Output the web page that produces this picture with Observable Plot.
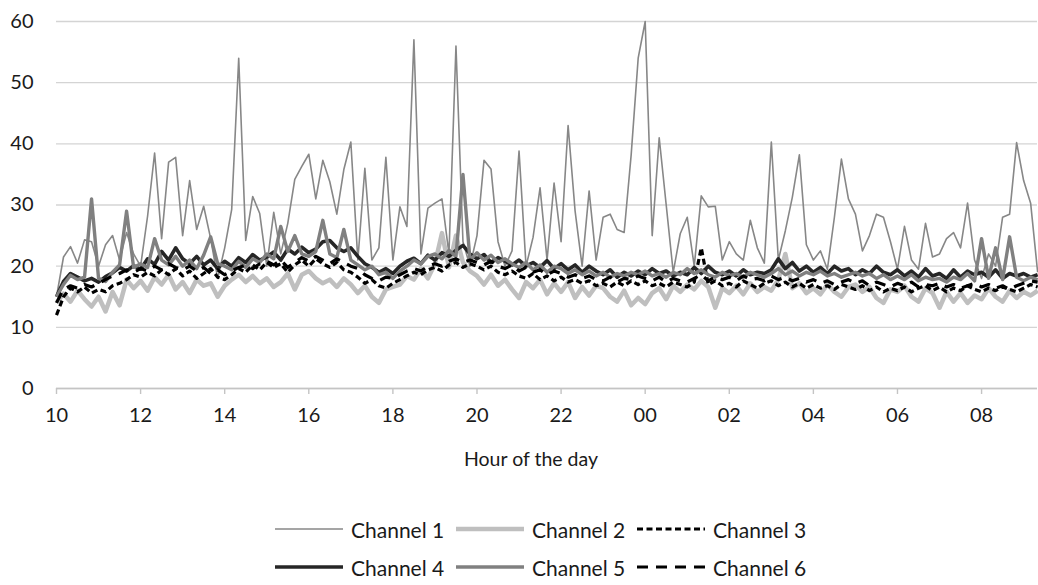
<!DOCTYPE html>
<html>
<head>
<meta charset="utf-8">
<script src="https://cdn.jsdelivr.net/npm/d3@7"></script>
<script src="https://cdn.jsdelivr.net/npm/@observablehq/plot@0.6"></script>
<style>
  html, body { margin: 0; padding: 0; background: #fff; }
  #wrap { width: 1038px; height: 585px; position: relative; font-family: Lato, "Open Sans", sans-serif; }
  #legend { position: absolute; left: 0; top: 0; width: 1038px; }
  .row { position: absolute; left: 275px; display: flex; justify-content: flex-start; align-items: center; height: 26px; }
  .item { display: flex; align-items: center; }
  .item svg { display: block; margin-right: 8px; }
  .item span { font-size: 21px; color: #1a1a1a; margin-right: 10px; white-space: nowrap; display: inline-block; width: 95px; }
</style>
</head>
<body>
<div id="wrap"><div id="chart"></div><div id="legend"></div></div>
<script>
// ---- data (10-minute samples starting 10:00) ----
const startHour = 10;
const stepMinutes = 10;
const xTickHours = [0, 2, 4, 6, 8, 10, 12, 14, 16, 18, 20, 22];
const yTicks = [0, 10, 20, 30, 40, 50, 60];
const xTitle = "Hour of the day";
const channelNames = ["Channel 1", "Channel 2", "Channel 3", "Channel 4", "Channel 5", "Channel 6"];

const channel1 = [
  15, 21.5, 23.2, 20.5, 24.3, 24,
  20, 23.5, 25, 21, 25.5, 22,
  20, 28.2, 38.5, 24.5, 37, 37.8,
  25, 34, 26, 29.8, 24.5, 18,
  23, 29.3, 54, 24.2, 31.4, 28.6,
  20, 28.8, 22, 27, 34.2, 36.3,
  38.3, 31, 37.3, 33.8, 28.5, 35.8,
  40.3, 21, 36, 21, 23, 37.8,
  21, 29.7, 26.5, 57, 22, 29.5,
  30.3, 31, 22, 56, 24, 20,
  25, 37.3, 35.9, 24, 20, 22.5,
  38.8, 20, 24.7, 32.8, 21, 33.6,
  24, 43, 29, 20, 32.3, 21,
  28, 28.5, 26, 25.5, 38.2, 54,
  60, 25, 41, 30, 19, 25.3,
  28, 20, 31.5, 29.7, 29.8, 21,
  24, 22, 21, 27.5, 23, 20.5,
  40.3, 21, 25.8, 31.3, 38.2, 23.5,
  21, 22.5, 19.5, 28, 37.5, 31,
  28.5, 22.5, 25, 28.5, 28, 24,
  19.5, 26.5, 21, 19.5, 27, 21.5,
  22, 24.5, 25.5, 23, 30.3, 21,
  18, 22, 20, 28, 28.5, 40.2,
  34, 30.3, 19
];
const channel2 = [
  14.0, 15.5, 14.2, 16.0, 14.6, 13.4,
  15.0, 12.6, 15.8, 13.6, 17.8, 16.4,
  17.6, 16.0, 18.2, 17.0, 18.6, 16.2,
  17.4, 15.6, 17.8, 16.8, 17.2, 15.0,
  16.8, 17.8, 18.6, 17.4, 18.4, 17.2,
  18.0, 16.6, 17.4, 18.8, 16.2, 18.6,
  19.2, 18.0, 17.2, 17.8, 16.6, 18.0,
  17.0, 15.6, 16.8, 15.0, 14.0, 16.2,
  16.6, 17.0, 18.4, 17.8, 19.6, 18.0,
  20.4, 25.4, 19.8, 25.0, 20.6, 19.2,
  18.4, 17.0, 18.6, 16.8, 17.8, 16.2,
  14.8, 17.4, 16.4, 17.8, 15.4, 17.2,
  15.8, 17.4, 14.8, 16.6, 15.2, 16.8,
  16.4, 15.0, 14.2, 16.0, 13.6, 14.8,
  13.8, 15.6, 16.4, 14.6, 16.8, 15.8,
  17.0, 16.2, 17.6, 16.6, 13.2, 16.4,
  15.6, 16.8, 15.4, 17.2, 15.8, 16.6,
  16.0, 17.8, 22.0, 16.4, 17.2, 15.6,
  16.4, 15.4, 17.0, 15.8, 15.0, 16.6,
  17.0, 15.8, 16.6, 14.8, 14.0, 16.2,
  15.8, 16.8, 15.0, 14.2, 16.4, 15.6,
  13.2, 15.8, 14.2, 15.6, 14.0, 15.2,
  14.6, 16.4, 15.0, 14.2, 16.0, 14.8,
  15.8, 15.2, 16.0
];
const channel3 = [
  12.0, 15.0, 16.4, 15.8, 16.6, 15.6,
  16.2, 15.8, 16.8, 17.2, 17.8, 18.6,
  18.2, 19.0, 18.4, 19.4, 18.6, 19.6,
  18.4, 19.2, 18.0, 18.8, 19.6, 18.2,
  17.8, 18.6, 19.6, 19.0, 20.2, 19.4,
  20.6, 19.8, 20.4, 19.0, 20.2, 21.0,
  20.0, 21.2, 20.4, 19.8, 20.6, 19.4,
  19.0, 18.2, 17.2, 17.8, 16.8, 16.4,
  17.2, 17.8, 18.4, 19.0, 18.6, 19.4,
  19.8, 19.2, 20.2, 20.6, 19.8, 20.4,
  20.0, 19.4, 20.0, 19.0, 18.6, 19.2,
  18.4, 18.0, 18.8, 17.8, 18.4, 17.6,
  18.2, 17.4, 17.8, 17.2, 17.6, 16.8,
  17.2, 16.6, 17.4, 16.8, 17.6, 17.0,
  17.6, 16.8, 17.2, 16.6, 17.4, 17.0,
  16.6, 17.4, 23.0, 17.0, 17.6, 16.8,
  17.2, 16.6, 17.6, 17.0, 16.4, 17.2,
  17.6, 16.8, 17.4, 16.6, 17.2, 16.4,
  17.0, 16.4, 16.8, 16.2, 17.0, 16.6,
  16.2, 16.8, 16.0, 16.6, 15.8, 16.4,
  16.0, 16.6, 15.8, 16.4, 16.8, 16.0,
  16.6, 15.8, 16.4, 16.0, 16.8, 16.2,
  15.8, 16.4, 16.0, 16.6, 16.2, 15.8,
  16.4, 17.0, 16.6
];
const channel4 = [
  15.0, 17.5, 18.8, 18.2, 17.6, 18.0,
  17.4, 18.3, 18.9, 19.8, 19.2, 20.1,
  19.5, 21.2, 20.3, 22.4, 21.0, 23.0,
  21.2, 20.4, 21.6, 20.2, 21.0, 19.6,
  20.8, 20.0, 21.4, 20.6, 21.9, 21.0,
  21.5, 22.3, 21.0, 22.8, 22.0, 23.1,
  22.2, 22.8, 24.0, 24.2, 23.0, 22.4,
  23.0, 21.6, 20.4, 19.8, 19.0, 19.6,
  18.8, 20.0, 20.8, 21.3, 20.4, 21.8,
  21.0, 22.2, 21.6, 22.6, 23.4, 22.0,
  21.2, 21.9, 20.6, 21.4, 20.8, 20.2,
  21.0, 20.0, 20.6, 19.8, 20.9, 19.6,
  20.4, 19.4, 20.2, 19.0, 20.0, 19.2,
  18.6, 19.4, 18.2, 19.0, 18.4, 19.2,
  18.6, 19.6, 18.8, 19.2, 18.4, 19.0,
  18.6, 19.8, 18.8, 20.0, 19.0, 18.6,
  19.2, 18.4, 19.4, 18.6, 19.0, 18.8,
  19.4, 21.2, 19.6, 20.6, 19.2, 20.0,
  19.0, 19.8, 18.8, 20.0, 19.2, 19.6,
  18.6, 19.4, 18.8, 20.0, 19.0, 18.6,
  19.4, 18.4, 19.2, 18.2, 19.6, 18.4,
  18.8, 18.0, 19.4, 18.2, 19.2, 18.6,
  19.0, 18.2, 19.4, 18.0, 18.8, 18.4,
  18.8, 18.2, 18.6
];
const channel5 = [
  15.0, 17.0, 18.5, 17.8, 18.2, 31.0,
  18.0, 17.5, 19.0, 20.2, 29.0, 19.8,
  20.4, 19.8, 24.5, 21.0, 20.2, 21.6,
  20.0, 21.0, 19.6, 21.8, 24.8, 20.4,
  20.0, 19.4, 20.8, 19.8, 21.2, 20.6,
  22.0, 21.2, 26.5, 22.4, 25.0, 22.0,
  21.6, 22.4, 27.5, 22.0, 21.4, 26.0,
  21.0, 20.2, 19.4, 20.0, 18.6, 19.0,
  18.0, 19.2, 20.0, 21.0, 20.4, 21.6,
  22.0, 21.2, 22.6, 21.6, 35.0, 21.0,
  22.2, 21.0, 21.8, 20.6, 21.2, 20.4,
  19.8, 20.6, 19.4, 20.2, 19.0, 20.0,
  19.6, 18.8, 19.4, 18.6, 19.2, 18.4,
  19.0, 18.2, 18.8, 18.4, 19.0, 18.6,
  19.2, 18.4, 18.8, 18.2, 19.0, 18.6,
  19.6, 18.8, 19.4, 18.6, 18.2, 19.0,
  18.4, 18.8, 18.2, 19.0, 18.6, 18.2,
  18.8, 19.6, 18.6, 19.2, 18.4, 19.0,
  18.6, 19.2, 18.4, 18.8, 18.2, 18.6,
  19.0, 18.4, 18.8, 18.0, 18.6, 17.8,
  18.4, 17.8, 18.6, 17.6, 18.2, 17.8,
  18.0, 17.4, 18.2, 17.8, 18.8, 17.6,
  24.5, 18.0, 23.0, 17.8, 24.8, 18.2,
  17.6, 18.2, 17.8
];
const channel6 = [
  14.0, 16.2, 16.8, 16.4, 17.0, 16.6,
  17.2, 17.8, 18.4, 18.8, 19.4, 19.0,
  19.6, 19.2, 20.0, 19.4, 20.4, 19.8,
  19.4, 20.0, 19.2, 19.8, 18.8, 19.4,
  18.6, 19.2, 19.8, 20.2, 19.6, 20.4,
  20.8, 20.2, 21.0, 19.8, 20.6, 21.4,
  20.8, 21.6, 21.0, 20.4, 21.2, 20.6,
  20.0, 19.6, 18.6, 18.0, 17.6, 18.2,
  18.0, 18.6, 19.2, 19.6, 19.2, 20.0,
  20.4, 20.0, 20.8, 21.2, 20.6, 21.0,
  20.6, 20.2, 20.8, 20.0, 19.6, 20.2,
  19.2, 19.8, 19.0, 19.4, 18.6, 19.2,
  18.8, 18.2, 18.6, 18.0, 18.4, 17.8,
  17.6, 18.2, 17.4, 18.0, 17.8, 18.4,
  18.0, 17.6, 18.2, 17.4, 18.0, 17.6,
  17.4, 18.0, 18.6, 17.6, 18.2, 17.8,
  18.2, 17.6, 18.4, 17.8, 18.0, 17.6,
  18.4, 17.8, 18.2, 17.6, 18.0, 17.4,
  17.8, 17.2, 17.6, 17.0, 17.4, 17.8,
  17.2, 17.6, 16.8, 17.4, 17.0, 16.6,
  17.2, 16.8, 17.4, 16.6, 17.0, 16.8,
  17.2, 16.6, 17.0, 16.4, 16.8, 17.2,
  16.6, 17.0, 16.4, 16.8, 16.2, 16.8,
  17.2, 17.6, 17.4
];

// ---- styles ----
const styles = [
  {stroke: "#878787", strokeWidth: 1.6, dash: null},
  {stroke: "#bfbfbf", strokeWidth: 4.5, dash: null},
  {stroke: "#000000", strokeWidth: 3.2, dash: "6,3.5"},
  {stroke: "#262626", strokeWidth: 3.6, dash: null},
  {stroke: "#808080", strokeWidth: 3.4, dash: null},
  {stroke: "#000000", strokeWidth: 3.2, dash: "11,8"}
];
const series = [channel1, channel2, channel3, channel4, channel5, channel6];

const toRows = (vals, name) => vals.map((v, i) => ({hour: i * stepMinutes / 60, value: v, channel: name}));

const fmtHour = h => String((startHour + h) % 24).padStart(2, "0");
const fontFam = "Lato, 'Open Sans', sans-serif";

const chart = Plot.plot({
  width: 1038,
  height: 485,
  marginLeft: 56,
  marginRight: 1,
  marginTop: 21,
  marginBottom: 97,
  style: {fontFamily: fontFam, fontSize: "20px", color: "#1a1a1a", background: "#fff"},
  x: {domain: [0, 23.33], label: null},
  y: {domain: [0, 60], label: null},
  marks: [
    Plot.gridY(yTicks, {stroke: "#d4d4d4", strokeOpacity: 1, strokeWidth: 1.4}),
    Plot.ruleY([0], {stroke: "#c4c4c4", strokeWidth: 1.4}),
    Plot.axisX(xTickHours, {tickFormat: fmtHour, tickSize: 6, tickPadding: 13, stroke: "#c4c4c4", strokeWidth: 1.4,
      fontSize: 20, label: null}),
    Plot.axisY(yTicks, {tickSize: 0, tickPadding: 0, dx: -23, label: null, fontSize: 20}),
    Plot.text([xTitle], {frameAnchor: "bottom", dy: 77, dx: -16, fontSize: 19.5, fill: "#1a1a1a"}),
    ...series.map((vals, k) => Plot.line(toRows(vals, channelNames[k]), {
      x: "hour", y: "value",
      stroke: styles[k].stroke,
      strokeWidth: styles[k].strokeWidth,
      strokeDasharray: styles[k].dash,
      strokeLinejoin: "round",
      strokeLinecap: "butt"
    }))
  ]
});
document.getElementById("chart").appendChild(chart);

// ---- legend ----
const legend = document.getElementById("legend");
[[0, 1, 2], [3, 4, 5]].forEach((idxs, r) => {
  const row = document.createElement("div");
  row.className = "row";
  row.style.top = (r === 0 ? 516 : 554) + "px";
  idxs.forEach(k => {
    const item = document.createElement("div");
    item.className = "item";
    const s = styles[k];
    item.innerHTML = `<svg width="68" height="10"><line x1="0" y1="5" x2="68" y2="5" stroke="${s.stroke}" stroke-width="${s.strokeWidth}" ${s.dash ? `stroke-dasharray="${s.dash}"` : ""}/></svg><span>${channelNames[k]}</span>`;
    row.appendChild(item);
  });
  legend.appendChild(row);
});
</script>
</body>
</html>
